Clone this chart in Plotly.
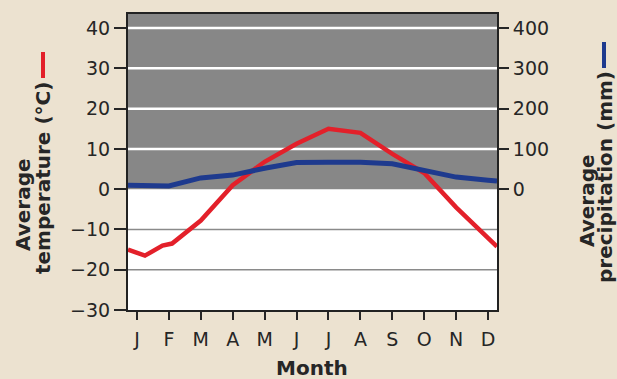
import plotly.graph_objects as go

# ---- data ----
months = ["J", "F", "M", "A", "M", "J", "J", "A", "S", "O", "N", "D"]
month_idx = list(range(12))

temp_pos = [-0.28, 0.25, 0.8, 1.1, 2, 3, 4, 5, 6, 7, 8, 9, 10, 11, 11.28]
temp_vals = [-15, -16.5, -14, -13.5, -7.8, 1, 6.8, 11.3, 15, 14, 8.75, 4, -4.5, -12, -14.25]

precip_pos = [-0.28, 0, 1, 2, 3, 4, 5, 6, 7, 8, 9, 10, 11, 11.28]
precip_vals = [10, 9, 8, 28, 35, 52, 66, 67, 67, 63, 46, 30, 22, 20]

temp_ticks = [-30, -20, -10, 0, 10, 20, 30, 40]
precip_ticks = [0, 100, 200, 300, 400]
temp_range = [-30, 43.5]
precip_range = [-300, 435]

# ---- style ----
BG = "#ECE2D0"
GRAY = "#878787"
TXT = "#262626"
RED = "#E3202A"
BLUE = "#1E3A8E"
FONT = "DejaVu Sans"

fig = go.Figure()
fig.add_trace(go.Scatter(x=temp_pos, y=temp_vals, mode="lines",
                         line=dict(color=RED, width=4.5), yaxis="y",
                         showlegend=False, hoverinfo="skip"))
fig.add_trace(go.Scatter(x=precip_pos, y=precip_vals, mode="lines",
                         line=dict(color=BLUE, width=5), yaxis="y2",
                         showlegend=False, hoverinfo="skip"))

shapes = [dict(type="rect", xref="paper", yref="y", x0=0, x1=1,
               y0=0, y1=temp_range[1], fillcolor=GRAY, line=dict(width=0),
               layer="below")]
for t in temp_ticks:
    if t > 0:
        shapes.append(dict(type="line", xref="paper", yref="y", x0=0, x1=1,
                           y0=t, y1=t, line=dict(color="white", width=2.5),
                           layer="below"))
    elif -30 < t < 0:
        shapes.append(dict(type="line", xref="paper", yref="y", x0=0, x1=1,
                           y0=t, y1=t, line=dict(color="#8a8a8a", width=1.5),
                           layer="below"))

# plot area geometry for paper coords
L, R, T, B = 128, 497, 14, 310
W, H = R - L, B - T
def px(x):
    return (x - L) / W
def py(y):
    return (B - y) / H

# legend-like bars next to axis titles
shapes.append(dict(type="line", xref="paper", yref="paper",
                   x0=px(43), x1=px(43), y0=py(52), y1=py(78),
                   line=dict(color=RED, width=4)))
shapes.append(dict(type="line", xref="paper", yref="paper",
                   x0=px(604), x1=px(604), y0=py(42), y1=py(68),
                   line=dict(color=BLUE, width=4)))

tfont = dict(family=FONT, size=20, color=TXT)
def ann(text, x, y, angle=-90):
    return dict(text=text, x=px(x), y=py(y), xref="paper", yref="paper",
                xanchor="center", yanchor="middle", textangle=angle,
                showarrow=False, font=tfont)

annotations = [
    ann("<b>Average</b>", 23, 205),
    ann("<b>temperature (°C)</b>", 43, 178),
    ann("<b>Average</b>", 587, 201),
    ann("<b>precipitation (mm)</b>", 605, 177),
    ann("<b>Month</b>", 312, 368, angle=0),
]

axfont = dict(family=FONT, size=19, color=TXT)
fig.update_layout(
    width=617, height=379,
    margin=dict(l=L, r=617 - R, t=T, b=379 - B),
    paper_bgcolor=BG, plot_bgcolor="white",
    shapes=shapes, annotations=annotations,
    xaxis=dict(range=[-0.28, 11.28], tickvals=month_idx, ticktext=months,
               ticks="outside", ticklen=8, tickwidth=2, tickcolor=TXT,
               showgrid=False, zeroline=False, showline=True, linecolor="#222",
               linewidth=2, mirror=True, tickfont=axfont, ticklabelstandoff=3),
    yaxis=dict(range=temp_range, tickvals=temp_ticks, ticks="outside",
               ticklen=12, tickwidth=2, tickcolor=TXT, showgrid=False,
               zeroline=False, showline=True, linecolor="#222", linewidth=2,
               mirror=True, tickfont=axfont),
    yaxis2=dict(range=precip_range, tickvals=precip_ticks, overlaying="y",
                side="right", ticks="outside", ticklen=11, tickwidth=2,
                tickcolor=TXT, showgrid=False, zeroline=False, showline=False,
                tickfont=axfont),
)

fig.write_html("out.html", config={"displayModeBar": False},
               post_script="document.body.style.margin='0';document.body.style.overflow='hidden';")
